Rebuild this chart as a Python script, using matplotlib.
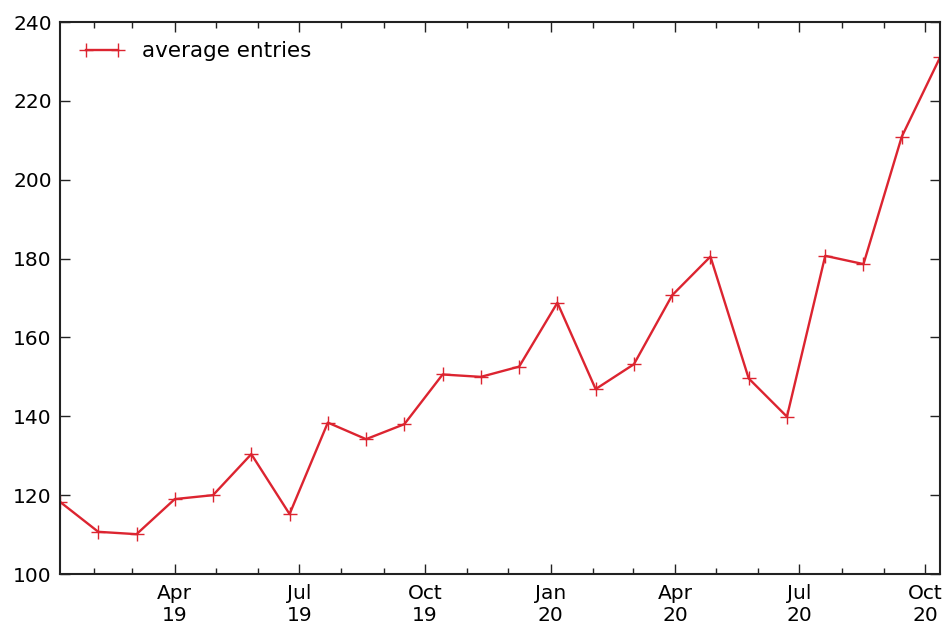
import matplotlib
matplotlib.use('Agg')
import matplotlib.pyplot as plt
import matplotlib.dates as mdates
import numpy as np
import pandas as pd

# 4-weekly averages starting Monday 7 Jan 2019
dates = pd.date_range('2019-01-07', periods=24, freq='28D')
avg_entries = [118.3, 110.7, 110.1, 119.0, 120.0, 130.4, 115.2, 138.4,
               134.2, 138.0, 150.6, 150.0, 152.6, 168.8, 146.9, 153.2,
               170.7, 180.5, 149.6, 139.9, 180.7, 178.6, 210.9, 231.0]

plt.rcParams['font.family'] = 'DejaVu Sans'
plt.rcParams['font.size'] = 14.5

fig = plt.figure(figsize=(9.45, 6.26), dpi=100, facecolor='white')
ax = fig.add_axes([60/945, 1 - 574/626, 880/945, 552/626])

ax.plot(dates, avg_entries, color='#dc2430', marker='+', markersize=10,
        markeredgewidth=1.0, linewidth=1.7, label='average entries')

ax.set_xlim(dates[0], dates[-1])
ax.set_ylim(100, 240)
ax.set_yticks(np.arange(100, 241, 20))

ax.xaxis.set_major_locator(mdates.MonthLocator(bymonth=[1, 4, 7, 10]))
ax.xaxis.set_major_formatter(mdates.DateFormatter('%b\n%y'))
ax.xaxis.set_minor_locator(mdates.MonthLocator())

for s in ax.spines.values():
    s.set_linewidth(1.5)
    s.set_color('#222222')
ax.tick_params(which='both', direction='in', top=True, right=True,
               color='#222222')
ax.tick_params(which='major', length=7, width=1, pad=7)
ax.tick_params(which='minor', length=4, width=1)
ax.tick_params(axis='y', pad=6)
for lbl in ax.get_xticklabels():
    lbl.set_horizontalalignment('center')

ax.legend(loc='upper left', frameon=False, numpoints=2, handlelength=2.1,
          fontsize=15.5, borderaxespad=0.5)

fig.savefig('out.png', dpi=100, facecolor='white')
